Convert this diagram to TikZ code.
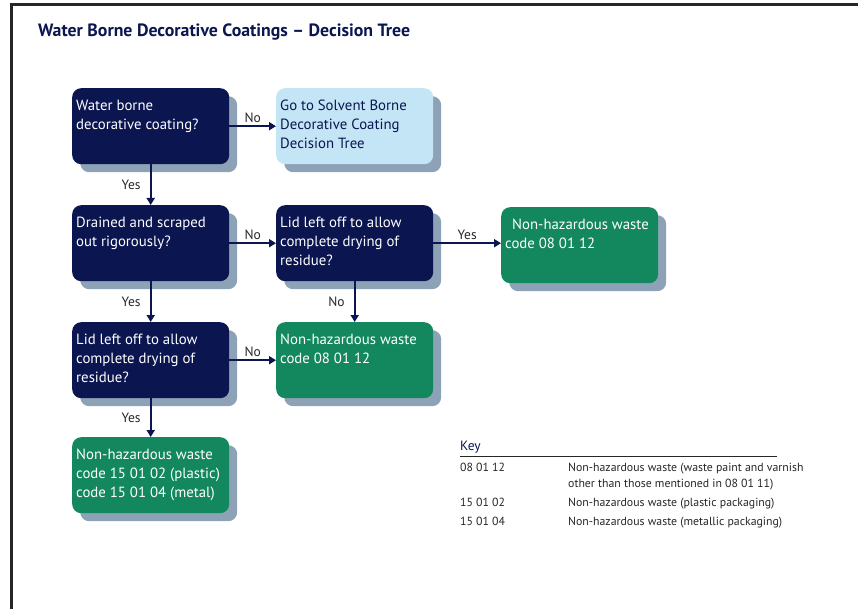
\documentclass[tikz,border=0pt]{standalone}
\usepackage{fontspec}
\setmainfont{PT Sans}
\usetikzlibrary{arrows.meta,shadows}
\definecolor{navy}{HTML}{0B1650}
\definecolor{grn}{HTML}{13875E}
\definecolor{lblue}{HTML}{C3E5F6}
\definecolor{shad}{HTML}{8DA2B6}
\definecolor{keytxt}{HTML}{262626}
\newcommand{\bt}[1]{\parbox[c][58pt][t]{149pt}{\strut #1}}
\begin{document}
\begin{tikzpicture}[x=1pt,y=-1pt,
  box/.style={rectangle, rounded corners=9pt, anchor=north west,
    minimum width=156pt, inner xsep=4pt, inner ysep=9pt,
    font=\fontsize{14.8}{19}\selectfont,
    drop shadow={shadow xshift=8pt, shadow yshift=-8pt, fill=shad, opacity=1}},
  qbox/.style={box, fill=navy, text=white},
  gbox/.style={box, fill=grn, text=white},
  lbox/.style={box, fill=lblue, text=navy},
  conn/.style={draw=navy, line width=2.2pt, -{Triangle[length=7pt,width=8pt]}},
  lab/.style={font=\fontsize{13.5}{15}\selectfont, text=black!85, inner sep=2pt},
  keyt/.style={font=\fontsize{11.8}{16}\selectfont, text=keytxt, anchor=base west, inner sep=0pt}
]
\useasboundingbox (0,0) rectangle (858,609);
\draw[line width=3pt, black!85] (11,609) -- (11,5) -- (858,5);

\node[anchor=base west, inner sep=0pt, font=\bfseries\fontsize{17.8}{20}\selectfont, text=navy] (title) at (38,37)
  {Water Borne Decorative Coatings -- Decision Tree};

\node[qbox] (q1) at (72,88) {\bt{Water borne\\decorative coating?}};
\node[lbox] (go) at (276,88) {\bt{Go to Solvent Borne\\Decorative Coating\\Decision Tree}};
\node[qbox] (q2) at (72,205) {\bt{Drained and scraped\\out rigorously?}};
\node[qbox] (q3) at (276,205) {\bt{Lid left off to allow\\complete drying of\\residue?}};
\node[gbox] (r1) at (501,207) {\bt{\hspace*{7pt}Non-hazardous waste\\code 08 01 12}};
\node[qbox] (q4) at (72,322) {\bt{Lid left off to allow\\complete drying of\\residue?}};
\node[gbox] (r2) at (276,322) {\bt{Non-hazardous waste\\code 08 01 12}};
\node[gbox] (r3) at (72,437) {\bt{Non-hazardous waste\\code 15 01 02 (plastic)\\code 15 01 04 (metal)}};

\draw[conn] (q1.east) -- node[lab, above] {No} (go.west);
\draw[conn] (q1.south) -- node[lab, left, xshift=-7pt] {Yes} (q2.north);
\draw[conn] (q2.east) -- node[lab, above] {No} (q3.west);
\draw[conn] (q3.east) -- node[lab, above] {Yes} (q3.east -| r1.west);
\draw[conn] (q3.south) -- node[lab, left, xshift=-7pt] {No} (r2.north);
\draw[conn] (q2.south) -- node[lab, left, xshift=-7pt] {Yes} (q4.north);
\draw[conn] (q4.east) -- node[lab, above] {No} (r2.west);
\draw[conn] (q4.south) -- node[lab, left, xshift=-7pt] {Yes} (r3.north);

\node[anchor=base west, inner sep=0pt, font=\fontsize{13.5}{15}\selectfont, text=navy] (key) at (460,450) {Key};
\coordinate (kl) at (460,456);
\coordinate (kr) at (777,456);
\draw[line width=0.9pt, black!85] (kl) -- (kr);
\node[keyt] (c1) at (460,471) {08 01 12};
\node[keyt] (d1) at (568,471) {\parbox[t]{280pt}{Non-hazardous waste (waste paint and varnish\\other than those mentioned in 08 01 11)}};
\node[keyt] (c2) at (460,506) {15 01 02};
\node[keyt] (d2) at (568,506) {Non-hazardous waste (plastic packaging)};
\node[keyt] (c3) at (460,525) {15 01 04};
\node[keyt] (d3) at (568,525) {Non-hazardous waste (metallic packaging)};
\end{tikzpicture}
\end{document}
